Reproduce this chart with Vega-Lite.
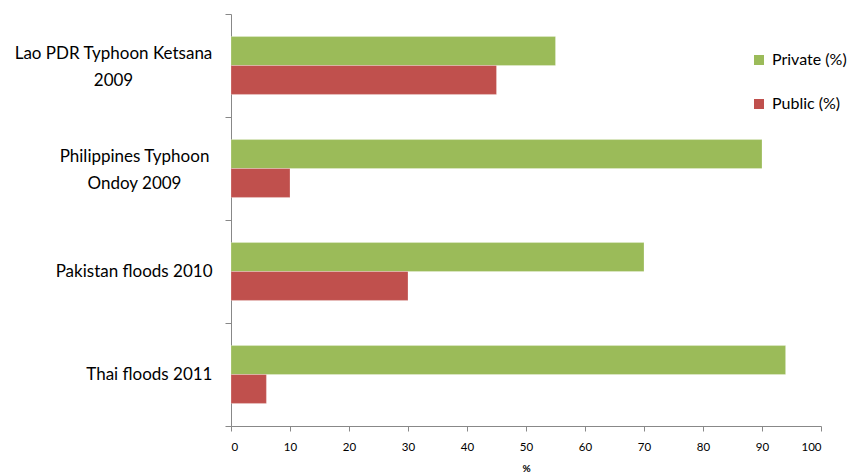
{
  "$schema": "https://vega.github.io/schema/vega-lite/v6.json",
  "autosize": "none",
  "width": 590,
  "height": 412,
  "padding": {"left": 231, "top": 14, "right": 27, "bottom": 47},
  "background": "white",
  "config": {
    "view": {"stroke": null},
    "font": "Lato"
  },
  "data": {
    "values": [
      {"event": "Lao PDR Typhoon Ketsana|2009", "sector": "Private (%)", "share": 55},
      {"event": "Lao PDR Typhoon Ketsana|2009", "sector": "Public (%)", "share": 45},
      {"event": "Philippines Typhoon|Ondoy 2009", "sector": "Private (%)", "share": 90},
      {"event": "Philippines Typhoon|Ondoy 2009", "sector": "Public (%)", "share": 10},
      {"event": "Pakistan floods 2010", "sector": "Private (%)", "share": 70},
      {"event": "Pakistan floods 2010", "sector": "Public (%)", "share": 30},
      {"event": "Thai floods 2011", "sector": "Private (%)", "share": 94},
      {"event": "Thai floods 2011", "sector": "Public (%)", "share": 6}
    ]
  },
  "mark": {"type": "bar", "stroke": "white", "strokeOpacity": 0.5, "strokeWidth": 0.5},
  "encoding": {
    "y": {
      "field": "event",
      "type": "nominal",
      "sort": null,
      "scale": {"paddingInner": 0, "paddingOuter": 0},
      "axis": {
        "title": null,
        "labelExpr": "datum.value ? split(datum.value, '|') : ''",
        "labelAlign": {
          "condition": {"test": "datum.value && indexof(datum.value, '|') >= 0", "value": "center"},
          "value": "right"
        },
        "labelOffset": {
          "condition": {"test": "datum.value && indexof(datum.value, '|') >= 0", "value": -12},
          "value": 0
        },
        "labelPadding": {
          "condition": [
            {"test": "datum.value == 'Lao PDR Typhoon Ketsana|2009'", "value": 112},
            {"test": "datum.value == 'Philippines Typhoon|Ondoy 2009'", "value": 91}
          ],
          "value": 13
        },
        "labelFontSize": 17,
        "labelColor": "#000",
        "labelLineHeight": 27,
        "labelLimit": 260,
        "tickBand": "extent",
        "tickSize": 6,
        "tickColor": "#888",
        "domainColor": "#888",
        "grid": false
      }
    },
    "yOffset": {
      "field": "sector",
      "type": "nominal",
      "scale": {"paddingInner": 0, "paddingOuter": 0.78}
    },
    "x": {
      "field": "share",
      "type": "quantitative",
      "scale": {"domain": [0, 100], "nice": false},
      "axis": {
        "title": "%",
        "titleFontSize": 10,
        "titleFontWeight": "bold",
        "titlePadding": 11,
        "values": [0, 10, 20, 30, 40, 50, 60, 70, 80, 90, 100],
        "labelFontSize": 11.5,
        "labelColor": "#000",
        "labelPadding": 10,
        "tickSize": 5,
        "tickColor": "#888",
        "domainColor": "#888",
        "grid": false
      }
    },
    "color": {
      "field": "sector",
      "type": "nominal",
      "scale": {"domain": ["Private (%)", "Public (%)"], "range": ["#9BBB59", "#C0504D"]},
      "legend": {
        "title": null,
        "orient": "none",
        "legendX": 520,
        "legendY": 38,
        "symbolType": "square",
        "symbolSize": 100,
        "symbolStrokeWidth": 0,
        "labelFontSize": 16,
        "labelColor": "#000",
        "rowPadding": 28,
        "labelOffset": 5
      }
    }
  }
}
